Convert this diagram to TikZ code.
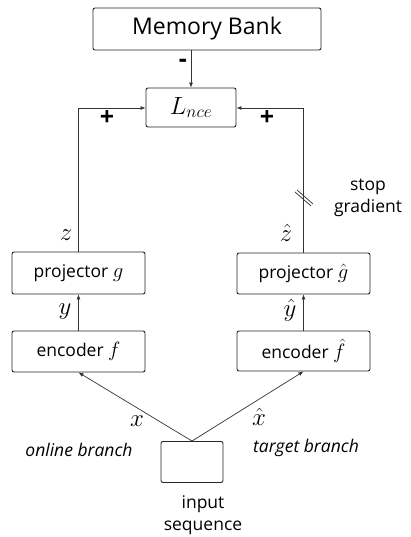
\documentclass[tikz,border=0pt]{standalone}
\usepackage{fontspec}
\setmainfont{Open Sans}
\usetikzlibrary{arrows.meta,calc}
\newcommand{\boxmath}[1]{{\fontsize{22}{24}\selectfont$#1$}}
\begin{document}
\begin{tikzpicture}[x=1pt,y=-1pt,
  box/.style={draw=black!85,line width=0.9pt,rounded corners=2pt,inner sep=0pt},
  conn/.style={draw=black!80,line width=0.7pt,-{Latex[length=5pt,width=4pt]}},
  lab/.style={font=\fontsize{17.5}{22}\selectfont},
  ilab/.style={font=\itshape\fontsize{17.5}{22}\selectfont,inner sep=0pt},
  mlab/.style={font=\fontsize{24}{26}\selectfont,inner sep=0pt},
  sign/.style={font=\bfseries\fontsize{25}{27}\selectfont,inner sep=0pt}]
\useasboundingbox (0,0) rectangle (410,537);
\node[box,minimum width=228pt,minimum height=42pt,font=\fontsize{23}{26}\selectfont] (mb) at (207,29) {Memory Bank};
\node[box,minimum width=90pt,minimum height=39pt,font=\fontsize{26}{28}\selectfont] (loss) at (191,107.5) {$L_{nce}$};
\node[box,minimum width=133pt,minimum height=42pt,lab] (pg) at (78.5,273) {projector \boxmath{g}};
\node[box,minimum width=133pt,minimum height=41pt,lab] (ph) at (303.5,273.5) {projector \boxmath{\hat{g}}};
\node[box,minimum width=133pt,minimum height=41pt,lab] (ef) at (78.5,351.5) {encoder \boxmath{f}};
\node[box,minimum width=133pt,minimum height=40pt,lab] (eh) at (303.5,351) {encoder \boxmath{\hat{f}}};
\node[box,minimum width=62pt,minimum height=41pt] (in) at (192,462) {};
% connectors
\draw[conn] (mb.south -| loss.north) -- (loss.north);
\node[sign] (minus) at (183,63) {-};
\coordinate (lc) at (78,108);
\coordinate (rc) at (303,108);
\draw[conn] (pg.north -| lc) -- (lc) -- (loss.west |- lc);
\draw[conn] (ph.north -| rc) -- (rc) -- (loss.east |- rc);
\node[sign] (plusl) at (107,118) {+};
\node[sign] (plusr) at (267,118) {+};
\draw[conn] (ef.north) -- (pg.south);
\draw[conn] (eh.north) -- (ph.south);
\draw[conn] (in.north) -- (ef.south);
\draw[conn] (in.north) -- (eh.south);
% stop gradient mark
\coordinate (sg) at (303,201);
\draw[black!80,line width=0.7pt] ($(sg)+(-8,-9)$) -- ($(sg)+(8,5)$);
\draw[black!80,line width=0.7pt] ($(sg)+(-6,-11)$) -- ($(sg)+(10,3)$);
\node[lab,align=center,inner sep=0pt] (sgt) at (368,198) {stop\\gradient};
% labels
\node[mlab] (zl) at (66,235) {$z$};
\node[mlab] (zh) at (286,233) {$\hat{z}$};
\node[mlab] (yl) at (65,312) {$y$};
\node[mlab] (yh) at (290,310) {$\hat{y}$};
\node[mlab] (xl) at (137,421) {$x$};
\node[mlab] (xh) at (259,417) {$\hat{x}$};
\node[ilab] (ob) at (79,450) {online branch};
\node[ilab] (tb) at (306,448) {target branch};
\node[lab,align=center,inner sep=0pt] (ins) at (203,515) {input\\sequence};
\end{tikzpicture}
\end{document}
